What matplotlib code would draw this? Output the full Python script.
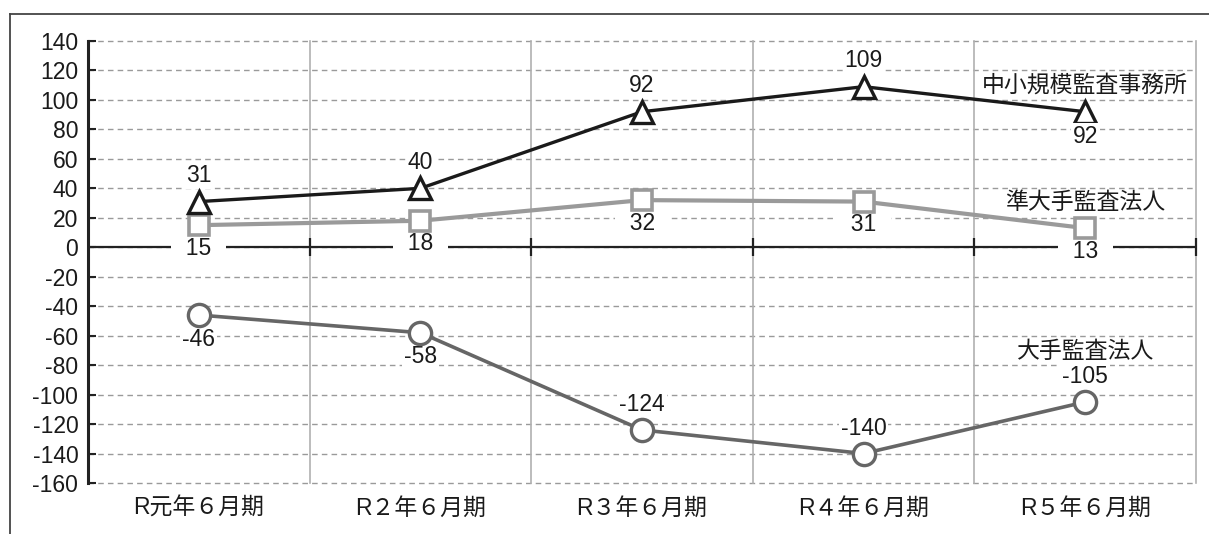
import matplotlib
matplotlib.use("Agg")
import matplotlib.pyplot as plt
import numpy as np
from matplotlib.lines import Line2D

plt.rcParams['font.family'] = ['Liberation Sans', 'Noto Sans CJK JP', 'DejaVu Sans']

categories = ["R元年６月期", "R２年６月期", "R３年６月期", "R４年６月期", "R５年６月期"]
small_mid = [31, 40, 92, 109, 92]        # 中小規模監査事務所
semi_large = [15, 18, 32, 31, 13]        # 準大手監査法人
large = [-46, -58, -124, -140, -105]     # 大手監査法人
series_names = ["中小規模監査事務所", "準大手監査法人", "大手監査法人"]
yticks = list(range(-160, 141, 20))

W, H = 1209, 534
fig = plt.figure(figsize=(W / 100, H / 100), dpi=100)
ax = fig.add_axes([88 / W, 1 - 483 / H, (1196 - 88) / W, (483 - 41) / H])

x = np.arange(len(categories))
bounds = x + 0.5

ax.set_xlim(-0.5, len(categories) - 0.5)
ax.set_ylim(-160, 140)

TXT = '#1a1a1a'

# grid
for yv in yticks:
    ax.axhline(yv, color='#9a9a9a', lw=1.0, ls=(0, (4, 3)), zorder=1, clip_on=False)
for b in bounds:
    ax.axvline(b, color='#b0b0b0', lw=1.2, zorder=1, clip_on=False)

# zero line with crossing tick marks
ax.axhline(0, color='#222222', lw=1.6, zorder=2)
ax.plot(bounds, np.zeros_like(bounds), ls='none', marker='|', ms=13, mew=1.6,
        color='#222222', zorder=2, clip_on=False)

for s in ['top', 'right', 'bottom']:
    ax.spines[s].set_visible(False)
ax.spines['left'].set_linewidth(2.2)
ax.spines['left'].set_color('#222222')

ax.set_yticks(yticks)
ax.set_yticklabels([str(v) for v in yticks])
ax.tick_params(axis='y', direction='in', length=6, width=1.5, color='#222222',
               labelsize=16.5, labelcolor=TXT, pad=7)
ax.set_xticks(x)
ax.set_xticklabels(categories)
ax.tick_params(axis='x', length=0, labelsize=16.5, labelcolor=TXT, pad=10)

# series
ax.plot(x, small_mid, color='#1a1a1a', lw=2.4, marker='^', ms=16, mfc='white',
        mec='#1a1a1a', mew=2.4, zorder=5)
ax.plot(x, semi_large, color='#9a9a9a', lw=3.0, marker='s', ms=14, mfc='white',
        mec='#9a9a9a', mew=2.6, zorder=4)
ax.plot(x, large, color='#666666', lw=2.6, marker='o', ms=16, mfc='white',
        mec='#666666', mew=2.4, zorder=4)

def lab(xv, yv, dy, text=None, z=3):
    ax.annotate(text if text is not None else str(yv), (xv, yv), xytext=(0, dy),
                textcoords='offset pixels', ha='center', va='center',
                fontsize=16.5, color=TXT, zorder=z,
                bbox=dict(boxstyle='square,pad=0.08', fc='white', ec='none'))

for i, v in enumerate(small_mid):
    if i == len(small_mid) - 1:
        lab(i, v, -25, z=6)
    else:
        lab(i, v, 26)
for i, v in enumerate(semi_large):
    lab(i, v, -23, text="  " + str(v) + "  ")
for i, v in enumerate(large):
    lab(i, v, -24 if i < 2 else 25)

last = len(categories) - 1
name_offsets = [27, 26, 50]
for name, vals, dy in zip(series_names, [small_mid, semi_large, large], name_offsets):
    ax.annotate(name, (last, vals[last]), xytext=(0, dy), textcoords='offset pixels',
                ha='center', va='center', fontsize=16.5, color=TXT, zorder=6)

# outer frame (top and left)
fig.add_artist(Line2D([10 / W, 1.0], [1 - 14 / H, 1 - 14 / H], color='#444444', lw=1.3))
fig.add_artist(Line2D([10 / W, 10 / W], [0, 1 - 14 / H], color='#444444', lw=1.3))

fig.savefig("out.png", dpi=100)
